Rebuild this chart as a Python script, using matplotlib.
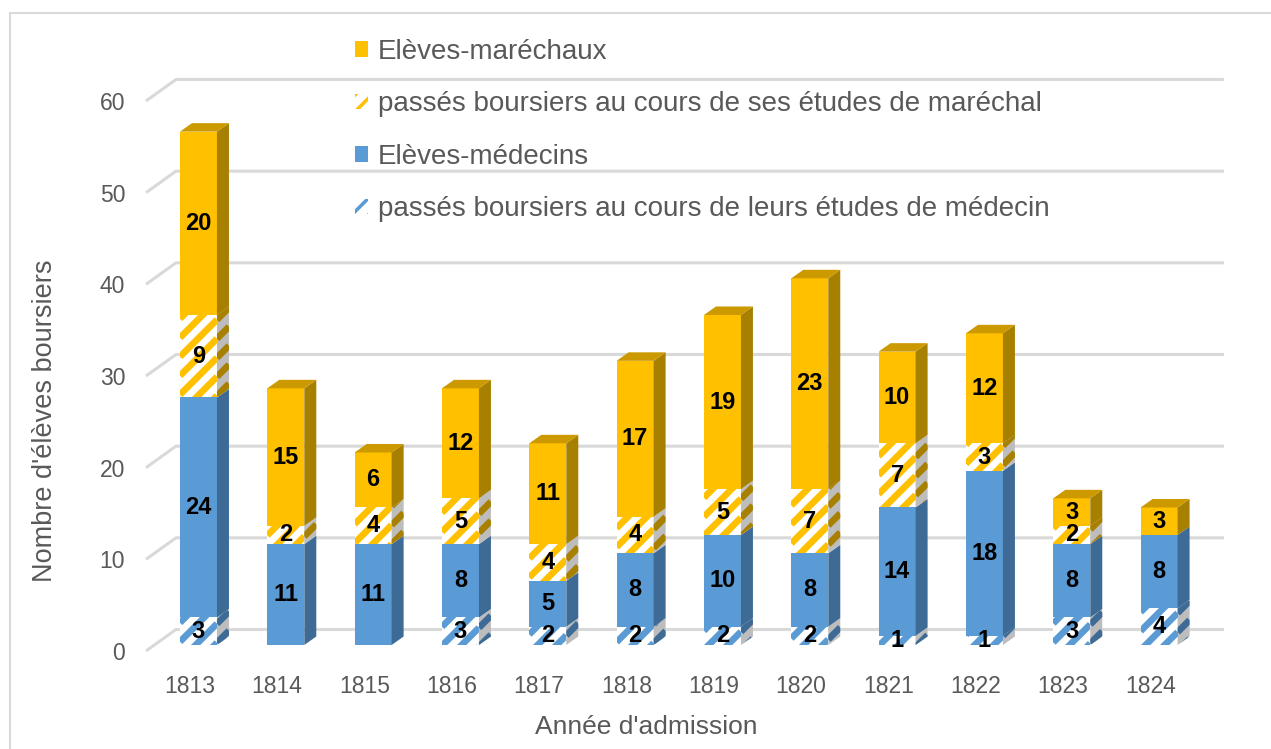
import math
import numpy as np
import matplotlib
matplotlib.use('Agg')
import matplotlib.pyplot as plt
from matplotlib.patches import Polygon, Rectangle, Patch
from matplotlib.collections import LineCollection

years = ['1813', '1814', '1815', '1816', '1817', '1818', '1819', '1820', '1821', '1822', '1823', '1824']
med_hatch = [3, 0, 0, 3, 2, 2, 2, 2, 1, 1, 3, 4]
med = [24, 11, 11, 8, 5, 8, 10, 8, 14, 18, 8, 8]
mar_hatch = [9, 2, 4, 5, 4, 4, 5, 7, 7, 3, 2, 0]
mar = [20, 15, 6, 12, 11, 17, 19, 23, 10, 12, 3, 3]
series_labels = ['passés boursiers au cours de leurs études de médecin',
                 'Elèves-médecins',
                 'passés boursiers au cours de ses études de maréchal',
                 'Elèves-maréchaux']
yticks = [0, 10, 20, 30, 40, 50, 60]

plt.rcParams['font.family'] = ['Liberation Sans', 'DejaVu Sans']
plt.rcParams['hatch.linewidth'] = 2.5

TXT = '#595959'
ORANGE = dict(front='#FFC000', side='#A88000', top='#CC9A00', hside='#BDBDBD')
BLUE = dict(front='#5B9BD5', side='#3D6B96', top='#4A80B4', hside='#BDBDBD')

W, H = 1271, 749
fig = plt.figure(figsize=(W / 100, H / 100), dpi=100)
PXX, PXY = 87.33, 9.167
ax_l, ax_r, ax_b, ax_t = 146, 1232, 651, 60
ax = fig.add_axes([ax_l / W, (H - ax_b) / H, (ax_r - ax_l) / W, (ax_b - ax_t) / H])
ax.set_xlim(-0.5, -0.5 + (ax_r - ax_l) / PXX)
ax.set_ylim(0, (ax_b - ax_t) / PXY)
for s in ax.spines.values():
    s.set_visible(False)

# back-wall depth
DX, DY = 30 / PXX, 21.5 / PXY
n = len(years)
for v in yticks:
    ax.plot([-0.5, -0.5 + DX, n - 0.5 + DX], [v, v + DY, v + DY],
            color='#D9D9D9', lw=2.2, zorder=1, solid_capstyle='butt', clip_on=False)

# bar geometry
FX, FY = 8.8 / PXX, 6 / PXY
BW = 37 / PXX
SX, SY = 12 / PXX, 8.5 / PXY

K = PXX / PXY          # 45-degree slope in data units
PER = 19 / PXY         # vertical stripe period
STRIPE_LW = 4.8


def add_stripes(patch, xlo, xhi, ylo, yhi, color):
    c_start = math.floor((ylo - K * xhi) / PER) * PER
    c_end = yhi - K * xlo + PER
    segs = [[(xlo, c + K * xlo), (xhi, c + K * xhi)] for c in np.arange(c_start, c_end, PER)]
    lc = LineCollection(segs, colors=color, linewidths=STRIPE_LW, capstyle='butt', zorder=3.5)
    ax.add_collection(lc, autolim=False)
    lc.set_clip_path(patch)


series = [(med_hatch, True, BLUE), (med, False, BLUE),
          (mar_hatch, True, ORANGE), (mar, False, ORANGE)]

for i in range(n):
    x0 = i + FX - BW / 2
    x1 = x0 + BW
    base = 0
    total = sum(s[0][i] for s in series)
    top_col = BLUE
    for vals, hatched, col in series:
        v = vals[i]
        if v == 0:
            continue
        b, t = base + FY, base + v + FY
        side_pts = [(x1, b), (x1 + SX, b + SY), (x1 + SX, t + SY), (x1, t)]
        if hatched:
            front = Rectangle((x0, b), BW, v, facecolor='white', lw=0, zorder=3)
            ax.add_patch(front)
            add_stripes(front, x0, x1, b, t, col['front'])
            side = Polygon(side_pts, closed=True, facecolor=col['hside'], lw=0, zorder=3)
            ax.add_patch(side)
            add_stripes(side, x1, x1 + SX, b, t + SY, col['side'])
        else:
            ax.add_patch(Rectangle((x0, b), BW, v, facecolor=col['front'], lw=0, zorder=3))
            ax.add_patch(Polygon(side_pts, closed=True, facecolor=col['side'], lw=0, zorder=3))
        ax.text(i + FX, base + v / 2 + FY, str(v), ha='center', va='center',
                fontsize=17, fontweight='bold', color='black', zorder=5)
        base += v
        top_col = col
    T = total + FY
    ax.add_patch(Polygon([(x0, T), (x0 + SX, T + SY), (x1 + SX, T + SY), (x1, T)],
                         closed=True, facecolor=top_col['top'], lw=0, zorder=3))

ax.set_xticks(range(n), years)
ax.set_yticks(yticks)
ax.tick_params(axis='x', length=0, pad=17, labelsize=16.5, labelcolor=TXT)
ax.tick_params(axis='y', length=0, pad=15, labelsize=16.5, labelcolor=TXT)

fig.text(45 / W, 1 - 421 / H, "Nombre d'élèves boursiers", rotation=90,
         ha='center', va='center', fontsize=19.5, color=TXT)
fig.text(646 / W, 1 - 727 / H, "Année d'admission", ha='center', va='center',
         fontsize=19, color=TXT)

handles = [Patch(facecolor=ORANGE['front'], lw=0),
           Patch(facecolor='white', edgecolor=ORANGE['front'], hatch='//', lw=0),
           Patch(facecolor=BLUE['front'], lw=0),
           Patch(facecolor='white', edgecolor=BLUE['front'], hatch='//', lw=0)]
leg_labels = [series_labels[3], series_labels[2], series_labels[1], series_labels[0]]
fig.legend(handles, leg_labels, loc='upper left', bbox_to_anchor=(355 / W, 1 - 39 / H),
           frameon=False, fontsize=20, labelcolor=TXT, handlelength=0.47,
           handleheight=0.47, handletextpad=0.36, labelspacing=0.95,
           borderpad=0, borderaxespad=0)

fig.add_artist(Rectangle((10 / W, -0.1), 1.2, 1 - 13 / H + 0.1, transform=fig.transFigure,
                         fill=False, edgecolor='#D9D9D9', lw=1.5))

fig.savefig('out.png', dpi=100)
